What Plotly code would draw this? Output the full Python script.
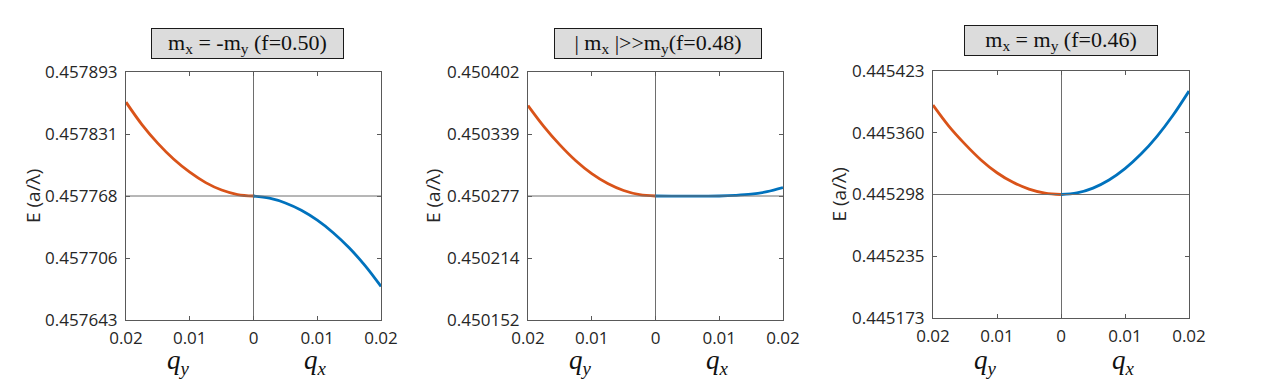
import plotly.graph_objects as go
from plotly.subplots import make_subplots

# wave vector samples (left branch is q_y, right branch is q_x)
q_left = [-0.02, -0.0175, -0.015, -0.0125, -0.01, -0.0075, -0.005, -0.0025, 0.0]
q_right = [0.0, 0.0025, 0.005, 0.0075, 0.01, 0.0125, 0.015, 0.0175, 0.02]

# energies E (a/lambda)
e1_qy = [0.4578626, 0.457840, 0.457821, 0.457805, 0.457792, 0.4577815, 0.457774, 0.4577695, 0.457768]
e1_qx = [0.457768, 0.4577658, 0.457761, 0.4577536, 0.4577436, 0.457731, 0.4577158, 0.4576978, 0.4576768]
e2_qy = [0.4503682, 0.450347, 0.4503285, 0.4503125, 0.4502995, 0.4502895, 0.4502825, 0.4502783, 0.450277]
e2_qx = [0.450277, 0.4502769, 0.4502768, 0.4502768, 0.450277, 0.4502776, 0.4502788, 0.4502813, 0.4502854]
e3_qy = [0.4453885, 0.445367, 0.445349, 0.445333, 0.445320, 0.4453103, 0.4453035, 0.4452994, 0.445298]
e3_qx = [0.445298, 0.4452996, 0.4453045, 0.4453127, 0.4453242, 0.4453389, 0.4453569, 0.4453782, 0.4454027]

titles = ['m<sub>x</sub> = -m<sub>y</sub> (f=0.50)',
          '| m<sub>x</sub> |&gt;&gt;m<sub>y</sub>(f=0.48)',
          'm<sub>x</sub> = m<sub>y</sub> (f=0.46)']

ytick_vals = [
    [0.457643, 0.4577055, 0.457768, 0.4578305, 0.457893],
    [0.450152, 0.4502145, 0.450277, 0.4503395, 0.450402],
    [0.445173, 0.4452355, 0.445298, 0.4453605, 0.445423],
]
ytick_text = [
    ['0.457643', '0.457706', '0.457768', '0.457831', '0.457893'],
    ['0.450152', '0.450214', '0.450277', '0.450339', '0.450402'],
    ['0.445173', '0.445235', '0.445298', '0.445360', '0.445423'],
]
e_ref = [0.457768, 0.450277, 0.445298]

xtick_vals = [-0.02, -0.01, 0, 0.01, 0.02]
xtick_text = ['0.02', '0.01', '0', '0.01', '0.02']

ORANGE = '#D95319'
BLUE = '#0072BD'
W, H = 1280, 389
OFF = 8  # page body margin pushes the figure by this much

fig = make_subplots(rows=1, cols=3)
curves = [(e1_qy, e1_qx), (e2_qy, e2_qx), (e3_qy, e3_qx)]
for i, (ey, ex) in enumerate(curves):
    fig.add_trace(go.Scatter(x=q_left, y=ey, mode='lines', line=dict(color=ORANGE, width=2.8, shape='spline')),
                  row=1, col=i + 1)
    fig.add_trace(go.Scatter(x=q_right, y=ex, mode='lines', line=dict(color=BLUE, width=2.8, shape='spline')),
                  row=1, col=i + 1)

# panel boxes in screen pixels: (left, right, top, bottom)
boxes = [(126, 381, 72, 320), (528, 783, 72, 320), (933, 1189, 71, 318)]
title_box = [(247.5, 43, 191), (658, 43, 206), (1061, 40, 192)]
ylab_x = [33, 433, 838]


def px(x):
    return (x - OFF) / W


def py(y):
    return 1 - (y - OFF) / H


axis_font = dict(family='Open Sans', size=17, color='#262626')
for i, (l, r, t, b) in enumerate(boxes):
    n = '' if i == 0 else str(i + 1)
    fig.layout['xaxis' + n].update(
        domain=[px(l), px(r)], range=[-0.02, 0.02], automargin=False,
        tickvals=xtick_vals, ticktext=xtick_text, ticks='inside', ticklen=4,
        tickcolor='#595959', showline=True, linecolor='#595959', linewidth=1, mirror='ticks',
        showgrid=False, zeroline=True, zerolinecolor='#6e6e6e', zerolinewidth=1,
        tickfont=axis_font, ticklabelstandoff=3,
    )
    fig.layout['yaxis' + n].update(
        domain=[py(b), py(t)], range=[ytick_vals[i][0], ytick_vals[i][-1]], automargin=False,
        tickvals=ytick_vals[i], ticktext=ytick_text[i], ticks='inside', ticklen=4,
        tickcolor='#595959', showline=True, linecolor='#595959', linewidth=1, mirror='ticks',
        showgrid=False, zeroline=False, tickfont=axis_font, ticklabelstandoff=4,
    )
    fig.add_shape(type='line', xref='x%s domain' % n, yref='y' + n, x0=0, x1=1,
                  y0=e_ref[i], y1=e_ref[i], line=dict(color='#6e6e6e', width=1))

    cx, cy, bw = title_box[i]
    fig.add_annotation(x=px(cx), y=py(cy), xref='paper', yref='paper', xanchor='center', yanchor='middle',
                       text=titles[i], showarrow=False, bgcolor='#dcdcdc', bordercolor='#1a1a1a',
                       borderwidth=1, borderpad=0, width=bw, height=29,
                       font=dict(family='Liberation Serif', size=22, color='#111111'))
    fig.add_annotation(x=px(ylab_x[i]), y=py((t + b) / 2), xref='paper', yref='paper',
                       xanchor='center', yanchor='middle',
                       text='E (a/\u03bb)', textangle=-90, showarrow=False,
                       font=dict(family='Open Sans', size=19, color='#262626'))
    for frac, sub in [(0.205, 'y'), (0.745, 'x')]:
        fig.add_annotation(x=frac, y=py(362), xref='x%s domain' % n, yref='paper',
                           xanchor='center', yanchor='middle',
                           text='<i>q</i><sub><i>%s</i></sub>' % sub, showarrow=False,
                           font=dict(family='Liberation Serif', size=27, color='#111111'))

fig.update_layout(width=W, height=H, margin=dict(l=0, r=0, t=0, b=0, autoexpand=False),
                  paper_bgcolor='white', plot_bgcolor='white', showlegend=False)

fig.write_html("out.html")
